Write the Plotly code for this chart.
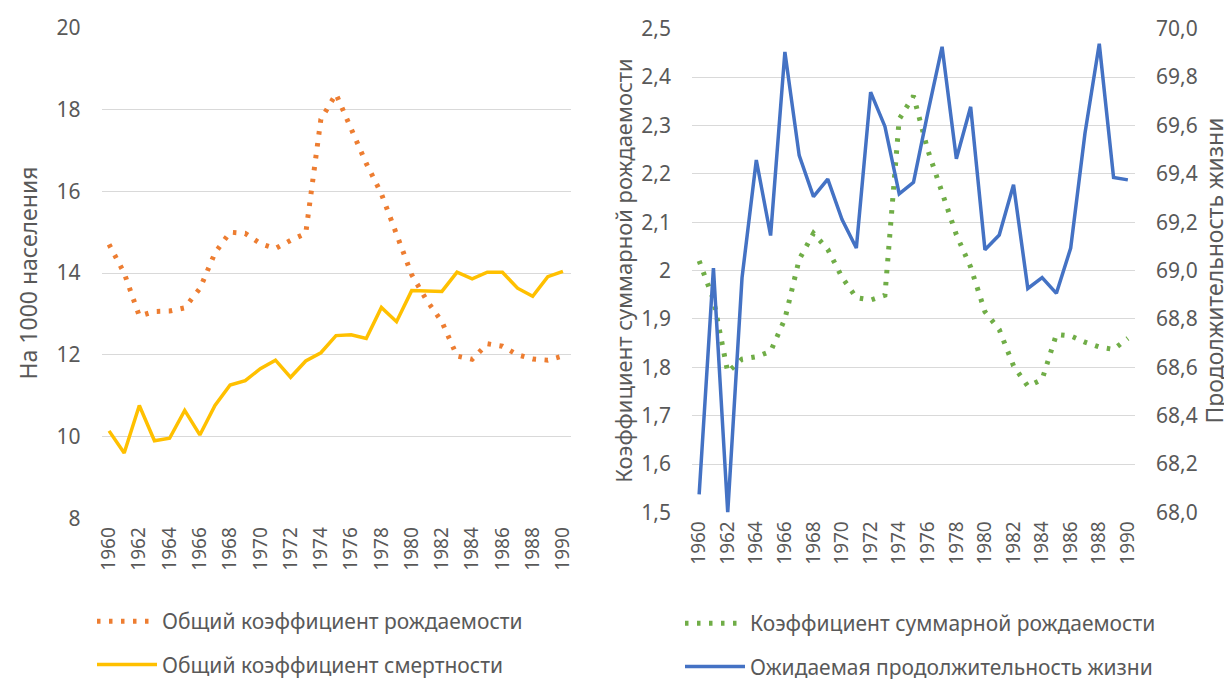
import plotly.graph_objects as go

years = list(range(1960, 1991))
tick_years = years[::2]

birth_rate = [14.7, 14.0, 12.95, 13.06, 13.07, 13.15, 13.62, 14.49, 15.0, 14.97,
              14.72, 14.6, 14.8, 14.97, 17.76, 18.38, 17.53, 16.68, 15.94, 14.97,
              13.96, 13.33, 12.81, 11.97, 11.89, 12.27, 12.21, 12.0, 11.9, 11.87, 11.97]
death_rate = [10.14, 9.6, 10.76, 9.9, 9.96, 10.64, 10.04, 10.76, 11.26, 11.37,
              11.66, 11.87, 11.45, 11.85, 12.05, 12.47, 12.49, 12.4, 13.16, 12.81,
              13.57, 13.55, 13.55, 14.02, 13.86, 14.02, 14.02, 13.63, 13.43, 13.91, 14.04]
tfr = [2.02, 1.94, 1.79, 1.817, 1.822, 1.833, 1.90, 2.023, 2.077, 2.044,
       1.986, 1.944, 1.939, 1.949, 2.313, 2.361, 2.249, 2.165, 2.074, 2.007,
       1.915, 1.878, 1.803, 1.761, 1.775, 1.868, 1.865, 1.852, 1.842, 1.837, 1.86]
life_exp = [68.075, 69.01, 68.0, 68.97, 69.457, 69.145, 69.904, 69.476, 69.306, 69.378,
            69.211, 69.093, 69.738, 69.596, 69.317, 69.365, 69.652, 69.925, 69.462, 69.677,
            69.086, 69.147, 69.355, 68.926, 68.971, 68.906, 69.093, 69.568, 69.938, 69.385, 69.375]

left_ticks = [8, 10, 12, 14, 16, 18, 20]
tfr_ticks = [1.5, 1.6, 1.7, 1.8, 1.9, 2.0, 2.1, 2.2, 2.3, 2.4, 2.5]
tfr_ticktext = ["1,5", "1,6", "1,7", "1,8", "1,9", "2", "2,1", "2,2", "2,3", "2,4", "2,5"]
life_ticks = [68.0, 68.2, 68.4, 68.6, 68.8, 69.0, 69.2, 69.4, 69.6, 69.8, 70.0]
life_ticktext = ["68,0", "68,2", "68,4", "68,6", "68,8", "69,0", "69,2", "69,4", "69,6", "69,8", "70,0"]

names = ["Общий коэффициент рождаемости", "Общий коэффициент смертности",
         "Коэффициент суммарной рождаемости", "Ожидаемая продолжительность жизни"]

ORANGE = "#ED7D31"
YELLOW = "#FFC000"
GREEN = "#70AD47"
BLUE = "#4472C4"
TXT = "#595959"
GRID = "#D9D9D9"
FONT = "Noto Sans"

W, H = 1232, 679

DOT = "3.5px,8.5px"

fig = go.Figure()
fig.add_trace(go.Scatter(x=years, y=birth_rate, name=names[0], mode="lines",
                         line=dict(color=ORANGE, width=5, dash=DOT),
                         xaxis="x", yaxis="y", legend="legend", legendgroup="a"))
fig.add_trace(go.Scatter(x=years, y=death_rate, name=names[1], mode="lines",
                         line=dict(color=YELLOW, width=3.5),
                         xaxis="x", yaxis="y", legend="legend", legendgroup="b"))
fig.add_trace(go.Scatter(x=years, y=tfr, name=names[2], mode="lines",
                         line=dict(color=GREEN, width=5, dash=DOT),
                         xaxis="x2", yaxis="y2", legend="legend2", legendgroup="c"))
fig.add_trace(go.Scatter(x=years, y=life_exp, name=names[3], mode="lines",
                         line=dict(color=BLUE, width=3.5),
                         xaxis="x2", yaxis="y3", legend="legend2", legendgroup="d"))

def px_x(a, b):
    return [a / W, b / W]

def px_y(top, bottom):
    return [(H - bottom) / H, (H - top) / H]

xcommon = dict(range=[1959.5, 1990.5], tickvals=tick_years, tickangle=-90,
               showgrid=False, zeroline=False, showline=False, ticks="",
               tickfont=dict(size=19, color=TXT, family=FONT), automargin=False,
               ticklabelstandoff=4)

fig.update_layout(
    width=W, height=H,
    margin=dict(l=0, r=0, t=0, b=0),
    paper_bgcolor="white", plot_bgcolor="white",
    font=dict(family=FONT, color=TXT),
    xaxis=dict(domain=px_x(93.5, 562.5), anchor="y", **xcommon),
    yaxis=dict(domain=px_y(20, 518), anchor="x", range=[8, 20], tickvals=left_ticks,
               showgrid=True, gridcolor=GRID, gridwidth=1, zeroline=False, showline=False,
               ticks="", ticklabelstandoff=20, automargin=False,
               tickfont=dict(size=21, color=TXT, family=FONT),
               title=dict(text="На 1000 населения", standoff=12,
                          font=dict(size=23, color=TXT, family=FONT))),
    xaxis2=dict(domain=px_x(684, 1127), anchor="y2", **xcommon),
    yaxis2=dict(domain=px_y(21, 512), anchor="x2", range=[1.5, 2.5], tickvals=tfr_ticks,
                ticktext=tfr_ticktext, showgrid=True, gridcolor=GRID, gridwidth=1,
                zeroline=False, showline=False, ticks="", ticklabelstandoff=20,
                automargin=False, tickfont=dict(size=21, color=TXT, family=FONT),
                title=dict(text="Коэффициент суммарной рождаемости", standoff=2,
                           font=dict(size=22, color=TXT, family=FONT))),
    yaxis3=dict(overlaying="y2", side="right", anchor="x2", range=[68.0, 70.0],
                tickvals=life_ticks, ticktext=life_ticktext, showgrid=False,
                zeroline=False, showline=False, ticks="", ticklabelstandoff=20,
                automargin=False, tickfont=dict(size=21, color=TXT, family=FONT),
                title=dict(text="Продолжительность жизни", standoff=3,
                           font=dict(size=23, color=TXT, family=FONT))),
    legend=dict(x=84 / W, y=(H - 602) / H, xanchor="left", yanchor="top",
                orientation="v", tracegroupgap=13, itemwidth=60,
                font=dict(size=21, color=TXT, family=FONT), bgcolor="rgba(0,0,0,0)"),
    legend2=dict(x=672 / W, y=(H - 604) / H, xanchor="left", yanchor="top",
                 orientation="v", tracegroupgap=13, itemwidth=60,
                 font=dict(size=21, color=TXT, family=FONT), bgcolor="rgba(0,0,0,0)"),
    showlegend=True,
)

fig.write_html("out.html")
